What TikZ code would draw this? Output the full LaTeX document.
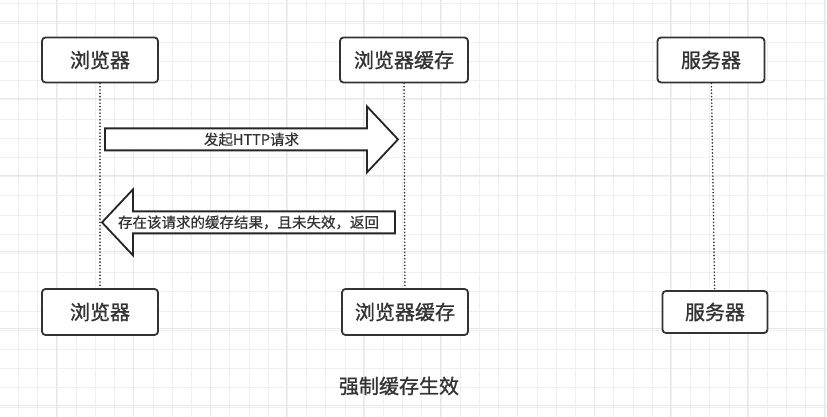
\documentclass[tikz,border=0pt]{standalone}
\usepackage{fontspec}
\newfontfamily\cjkfont{Noto Sans CJK SC}[FakeBold=1.1]
\newfontfamily\cjklight{Noto Sans CJK SC}[FakeBold=0.5]
\usetikzlibrary{calc}
\definecolor{inkgray}{HTML}{333333}
\tikzset{every node/.style={font=\cjkfont,text=inkgray},line cap=round,line join=round}
\tikzset{
  actor/.style={draw=inkgray,line width=1.8pt,rounded corners=3.5pt,fill=white,
    minimum height=45pt,inner xsep=0pt,font=\cjkfont\fontsize{20}{24}\selectfont},
  lifeline/.style={draw=inkgray,line width=1.8pt,dash pattern=on 0.01pt off 3.3pt,line cap=round},
  arrowtext/.style={font=\cjklight\fontsize{14.5}{17}\selectfont,inner sep=0pt},
  fat arrow/.style={draw=black!85,line width=1.8pt,fill=white,
    to path={let \p1=(\tikztostart),\p2=(\tikztotarget),\n1={sign(\x2-\x1)} in
      (\x1,\y1+11pt) -- ({\x2-(\n1)*31pt},\y1+11pt) -- ({\x2-(\n1)*31pt},\y1+33pt)
      -- (\x2,\y2) -- ({\x2-(\n1)*31pt},\y1-33pt) -- ({\x2-(\n1)*31pt},\y1-11pt)
      -- (\x1,\y1-11pt) -- cycle}},
}

\begin{document}
\begin{tikzpicture}[x=1pt,y=1pt]
  \path[use as bounding box,fill=white] (0,0) rectangle (827,417);
  % background grid
  \draw[black!6,line width=0.6pt,step=19.2pt,shift={(-0.8,10)}] (0,-20) grid (840,420);
  \draw[black!9,line width=0.6pt,step=76.8pt,shift={(56.2,11.6)}] (-80,-80) grid (840,420);

  % actors
  \node[actor,minimum width=116pt] (b1) at (100,357) {浏览器};
  \node[actor,minimum width=128pt] (c1) at (404,357) {浏览器缓存};
  \node[actor,minimum width=107pt] (s1) at (711,357) {服务器};
  \node[actor,minimum width=116pt,minimum height=46pt] (b2) at (100,105) {浏览器};
  \node[actor,minimum width=126pt,minimum height=46pt] (c2) at (405,105) {浏览器缓存};
  \node[actor,minimum width=105pt,minimum height=42pt] (s2) at (715,105) {服务器};

  % lifelines
  \draw[lifeline] (b1) -- (b2);
  \draw[lifeline] (c1) -- (c2);
  \draw[lifeline] (s1) -- (s2);

  % request
  \coordinate (req-from) at ($(b1.south)+(5,-56)$);
  \coordinate (req-to) at ($(c1.south)+(-6,-56)$);
  \draw[fat arrow] (req-from) to (req-to);
  \node[arrowtext] (req-label) at ($(req-from)!0.5!(req-to)$) {发起HTTP请求};

  % answer from cache
  \coordinate (ret-from) at ($(c1.south)+(-9,-139)$);
  \coordinate (ret-to) at ($(b1.south)+(2,-139)$);
  \draw[fat arrow] (ret-from) to (ret-to);
  \node[arrowtext] (ret-label) at ($(ret-from)!0.5!(ret-to)$) {存在该请求的缓存结果，且未失效，返回};

  \node[font=\cjkfont\fontsize{20}{24}\selectfont] (title) at (399,31) {强制缓存生效};
\end{tikzpicture}
\end{document}
